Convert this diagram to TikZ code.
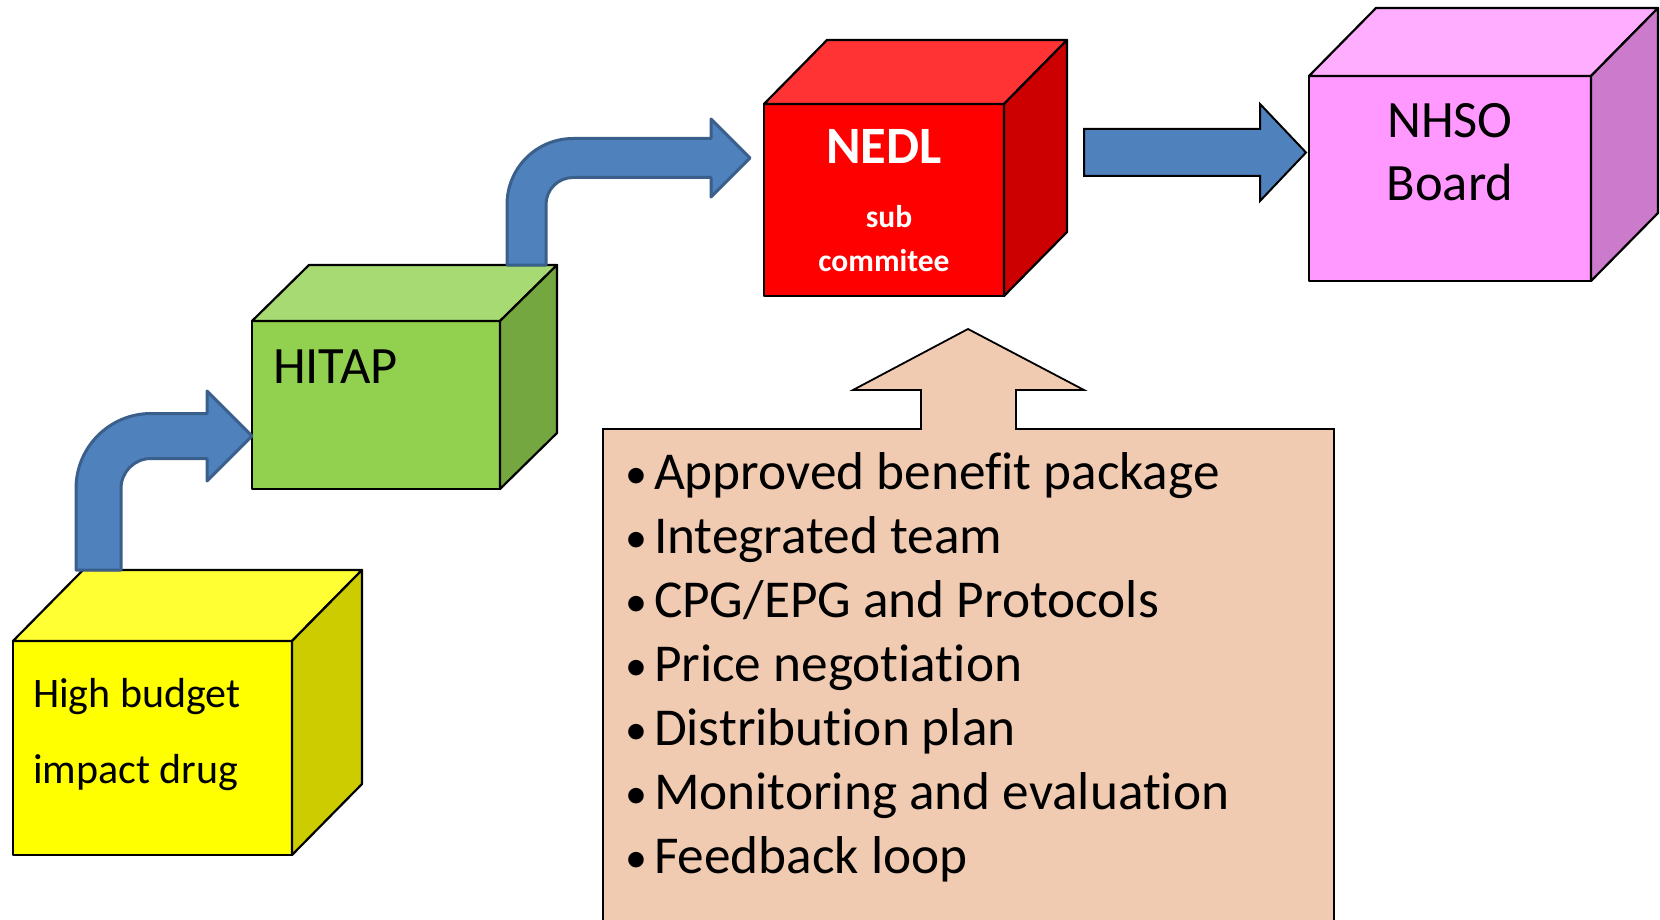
\documentclass[tikz,border=0pt]{standalone}
\usepackage{fontspec}
\setmainfont[Ligatures={NoCommon,NoContextual,NoRequired},Contextuals=NoAlternate]{Carlito}
\definecolor{yfront}{HTML}{FFFF00}
\definecolor{ytop}{HTML}{FFFF33}
\definecolor{yside}{HTML}{CCCC00}
\definecolor{gfront}{HTML}{92D050}
\definecolor{gtop}{HTML}{A8DA73}
\definecolor{gside}{HTML}{75A740}
\definecolor{rfront}{HTML}{FF0000}
\definecolor{rtop}{HTML}{FF3333}
\definecolor{rside}{HTML}{CC0000}
\definecolor{pfront}{HTML}{FF99FF}
\definecolor{ptop}{HTML}{FFADFF}
\definecolor{pside}{HTML}{CC7ACC}
\definecolor{ablue}{HTML}{4F81BD}
\definecolor{ablueline}{HTML}{3A5F8B}
\definecolor{peach}{HTML}{F0CBB2}
\newcommand\mybul{\makebox[30pt][l]{\hspace{1pt}\raisebox{1pt}{\fontsize{44}{50}\selectfont•}}}
\begin{document}
\begin{tikzpicture}[x=1pt,y=-1pt,
  face/.style={draw=black,line width=2.2pt,line join=round},
  frontface/.style={face,inner sep=0pt,outer sep=0pt},
  bent/.style={fill=ablue,draw=ablueline,line width=3pt,line join=round},
  straightarrow/.style={fill=ablue,draw=black,line width=2pt,line join=miter},
  callout/.style={fill=peach,draw=black,line width=1.8pt,line join=miter},
  lbl/.style={inner sep=0pt,outer sep=0pt},
  bigtxt/.style={lbl,font=\fontsize{52.5}{60}\selectfont},
  listtxt/.style={lbl,anchor=base west,font=\fontsize{53.3}{64}\selectfont}]
\useasboundingbox (0,0) rectangle (1660,920);

% ---- yellow cube
\node[frontface,fill=yfront,minimum width=279pt,minimum height=214pt] (drug) at (152.5,748) {};
\draw[face,fill=ytop] (drug.north west) -- ++(70,-71) -- ++(279,0) -- (drug.north east) -- cycle;
\draw[face,fill=yside] (drug.north east) -- ++(70,-71) -- ++(0,214) -- (drug.south east) -- cycle;
\node[lbl,anchor=base west,font=\fontsize{42}{50}\selectfont] (drugA) at (33,707) {High budget};
\node[lbl,anchor=base west,font=\fontsize{42}{50}\selectfont] (drugB) at (33,783) {impact drug};

% ---- green cube
\node[frontface,fill=gfront,minimum width=248pt,minimum height=168pt] (hitap) at (376,405) {};
\draw[face,fill=gtop] (hitap.north west) -- ++(57,-56) -- ++(248,0) -- (hitap.north east) -- cycle;
\draw[face,fill=gside] (hitap.north east) -- ++(57,-56) -- ++(0,168) -- (hitap.south east) -- cycle;
\node[bigtxt,anchor=base west] (hitapT) at (273,383) {HITAP};

% ---- red cube
\node[frontface,fill=rfront,minimum width=240pt,minimum height=192pt] (nedl) at (884,200) {};
\draw[face,fill=rtop] (nedl.north west) -- ++(63,-64) -- ++(240,0) -- (nedl.north east) -- cycle;
\draw[face,fill=rside] (nedl.north east) -- ++(63,-64) -- ++(0,192) -- (nedl.south east) -- cycle;
\node[lbl,anchor=base,text=white,font=\bfseries\fontsize{52.5}{60}\selectfont] (nedlT) at (884,164) {NEDL};
\node[lbl,anchor=base,text=white,font=\bfseries\fontsize{31.5}{40}\selectfont] (nedlS) at (889,228) {sub};
\node[lbl,anchor=base,text=white,font=\bfseries\fontsize{31.5}{40}\selectfont] (nedlC) at (884,271) {commitee};

% ---- pink cube
\node[frontface,fill=pfront,minimum width=282pt,minimum height=205pt] (nhso) at (1450,178.5) {};
\draw[face,fill=ptop] (nhso.north west) -- ++(67,-68) -- ++(282,0) -- (nhso.north east) -- cycle;
\draw[face,fill=pside] (nhso.north east) -- ++(67,-68) -- ++(0,205) -- (nhso.south east) -- cycle;
\node[bigtxt,anchor=base] (nhsoA) at (1450,138) {NHSO};
\node[bigtxt,anchor=base] (nhsoB) at (1450,201) {Board};

% ---- bent arrow drug -> HITAP
\draw[bent] (76,570) -- (76,488.5) .. controls (76,447.1) and (109.6,413.5) .. (151,413.5)
  -- (207,413.5) -- (207,391) -- (252,436) -- (207,481) -- (207,458.5) -- (151,458.5)
  .. controls (134.4,458.5) and (121,471.9) .. (121,488.5) -- (121,570) -- cycle;

% ---- bent arrow HITAP -> NEDL
\draw[bent] (507,265) -- (507,204.5) .. controls (507,168.05) and (536.55,138.5) .. (573,138.5)
  -- (711,138.5) -- (711,119) -- (750,158) -- (711,197) -- (711,177.5) -- (573,177.5)
  .. controls (558.1,177.5) and (546,189.6) .. (546,204.5) -- (546,265) -- cycle;

% ---- straight arrow NEDL -> NHSO
\draw[straightarrow] (1084,129) -- (1260,129) -- (1260,104) -- (1306,152.5) -- (1260,201) -- (1260,176) -- (1084,176) -- cycle;

% ---- callout
\draw[callout] (603,935) -- (603,429) -- (921,429) -- (921,390) -- (853,390) -- (968,329)
  -- (1084,390) -- (1016,390) -- (1016,429) -- (1334,429) -- (1334,935) -- cycle;
\node[listtxt] (l1) at (624,489) {\mybul Approved benefit package};
\node[listtxt] (l2) at (624,553) {\mybul Integrated team};
\node[listtxt] (l3) at (624,617) {\mybul CPG/EPG and Protocols};
\node[listtxt] (l4) at (624,681) {\mybul Price negotiation};
\node[listtxt] (l5) at (624,745) {\mybul Distribution plan};
\node[listtxt] (l6) at (624,809) {\mybul Monitoring and evaluation};
\node[listtxt] (l7) at (624,873) {\mybul Feedback loop};
\end{tikzpicture}
\end{document}
